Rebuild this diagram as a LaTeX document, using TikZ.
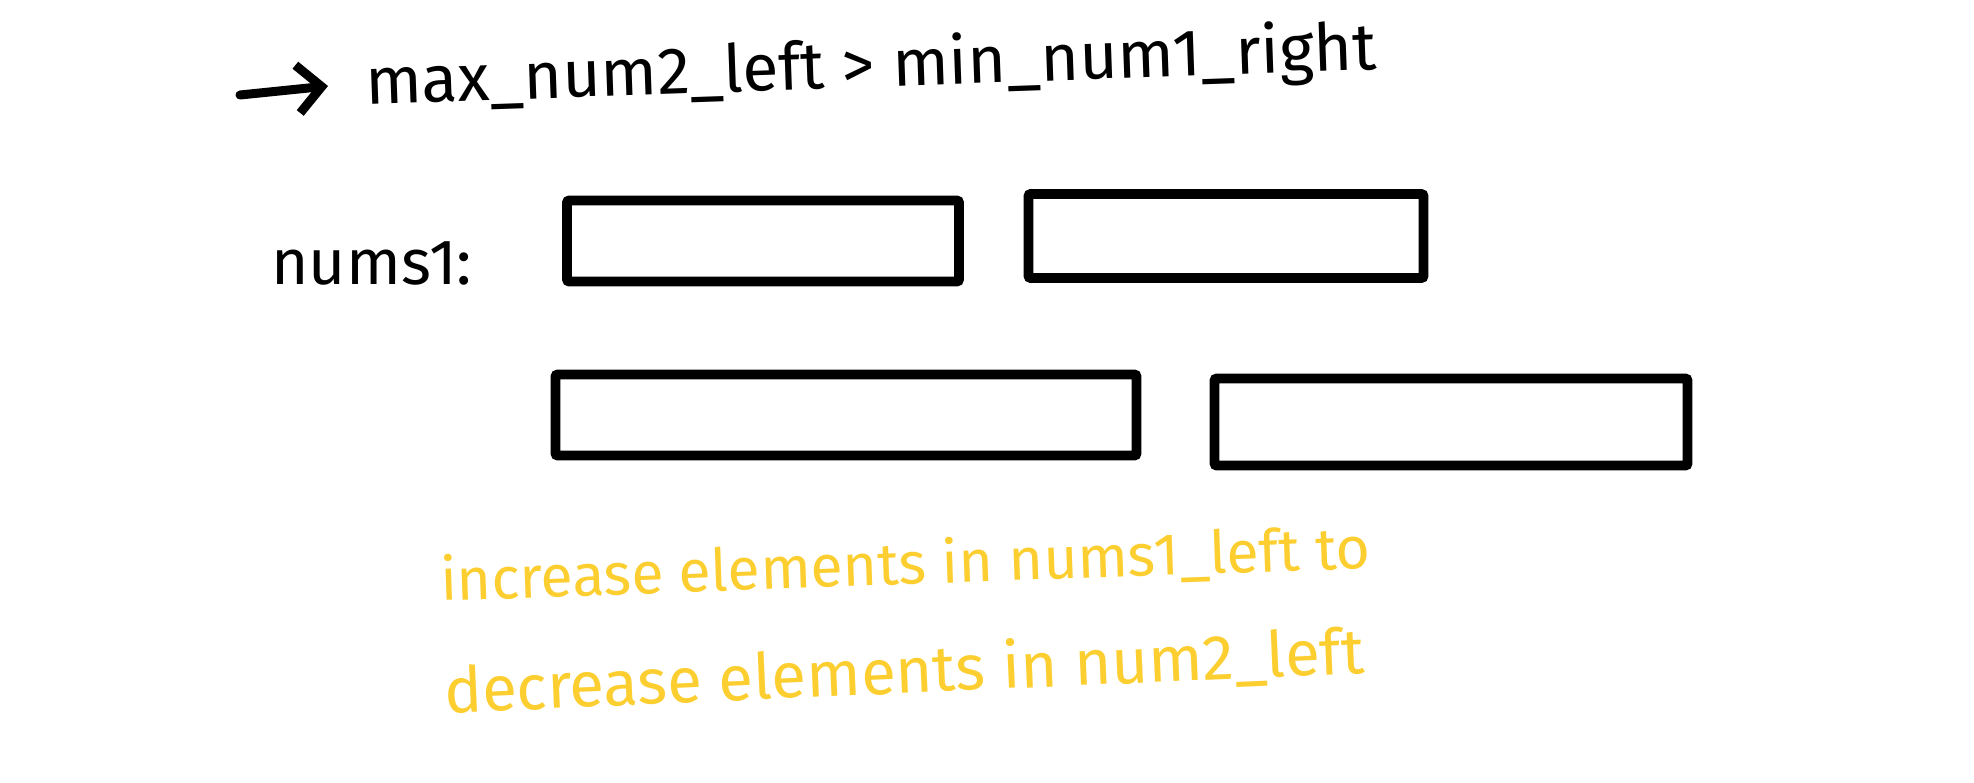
\documentclass[tikz,border=0pt]{standalone}
\usepackage{fontspec}
\setmainfont{Fira Sans}
\usetikzlibrary{arrows.meta}
\definecolor{marker}{RGB}{252,206,48}
\tikzset{
	slot/.style={draw, line width=4.8pt, rounded corners=1pt, inner sep=0pt},
	hand/.style={font=\fontsize{#1}{#1}\selectfont, inner sep=0pt, anchor=west},
	edge/.style={-{Straight Barb[length=12pt,width=24pt]}, line width=4.5pt, line cap=round}
}
\begin{document}
\begin{tikzpicture}[x=0.5pt, y=-0.5pt]
\useasboundingbox[fill=white] (0,0) rectangle (1974,782);

\coordinate (start) at (240,95);
\coordinate (tip) at (328,86);
\draw[edge] (start) to (tip);
\node[hand=33, rotate=2] (cond) at (365,86) {max\_num2\_left > min\_num1\_right};

\node[hand=32] (label) at (271,263) {nums1:};

% sizes are in pt, half the picture's units
\node[slot, minimum width=196pt, minimum height=40.5pt] (L1) at (763,241) {};
\node[slot, minimum width=197.5pt, minimum height=42pt] (R1) at (1226,236) {};
\node[slot, minimum width=290.5pt, minimum height=40.5pt] (L2) at (846,415) {};
\node[slot, minimum width=236.5pt, minimum height=43.5pt] (R2) at (1451,422) {};

\node[hand=29.5, text=marker, rotate=2] (note1) at (440,582) {increase elements in nums1\_left to};
\node[hand=31.8, text=marker, rotate=2.5] (note2) at (444,693) {decrease elements in num2\_left};
\end{tikzpicture}
\end{document}
